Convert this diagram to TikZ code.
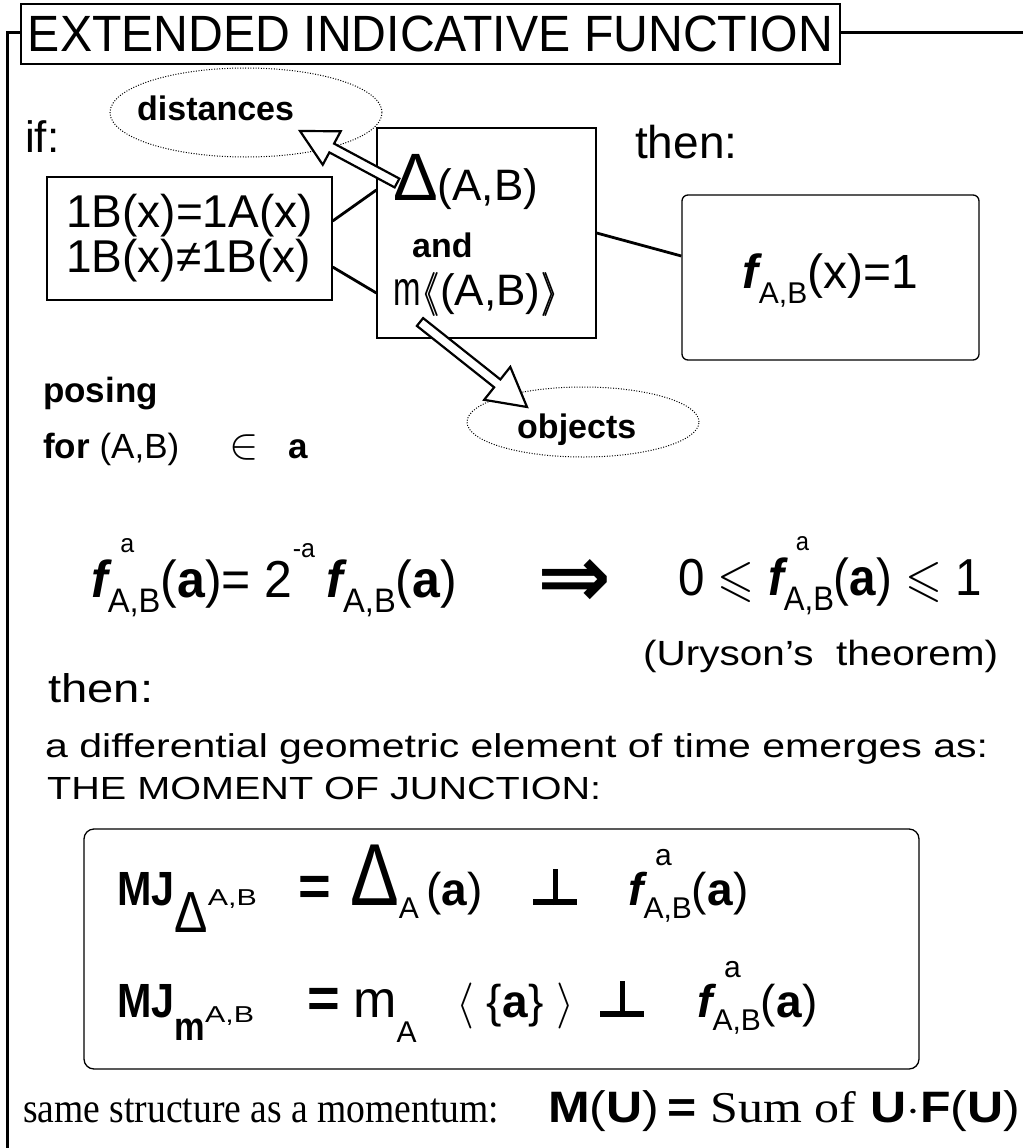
\documentclass[tikz,border=0pt]{standalone}
\usepackage{fix-cm}
\usepackage{amssymb}
\usepackage{graphicx}
\usepackage{fontspec}
\setmainfont{Liberation Sans}
\newfontfamily\nsans[FakeStretch=0.86]{Liberation Sans}
\newfontfamily\tnr{Liberation Serif}
\newfontfamily\dvs{DejaVu Sans}
\usetikzlibrary{positioning,calc,shapes.geometric}
\newcommand{\setfs}[1]{\fontsize{#1}{#1}\selectfont}
% f with index A,B and an upper index
\newcommand{\fab}[3]{%
  {\setfs{#1}\bfseries\itshape f}%
  \makebox[0pt][l]{\hspace{0.25\dimexpr#1pt\relax}\raisebox{0.85\dimexpr#1pt\relax}{\setfs{#2}#3}}%
  \raisebox{-0.3\dimexpr#1pt\relax}{\setfs{#2}A,B}}
% heavy perpendicular sign
\newcommand{\perpbar}{\makebox[44pt][l]{\rule{44pt}{6pt}\hspace{-24pt}\rule{4.5pt}{36pt}}}
\tikzset{
  box/.style={draw, line width=1.3pt, inner sep=0pt},
  txt/.style={anchor=base west, inner sep=0pt},
  cloud/.style={ellipse, draw, line width=1pt, dash pattern=on 1pt off 1.6pt, inner sep=0pt},
  link/.style={line width=2.8pt},
  frame/.style={line width=3pt},
  hollow/.style={draw, fill=white, line width=2.2pt, line join=miter},
}
% hollow arrow: tail, tip, shaft half width, head length, head half width
\newcommand{\harrow}[5]{%
  \coordinate (hn) at ($(#2)!#4!(#1)$);
  \draw[hollow] ($(#1)!#3!90:(#2)$) -- ($(hn)!#3!90:(#2)$) -- ($(hn)!#5!90:(#2)$)
    -- (#2) -- ($(hn)!#5!-90:(#2)$) -- ($(hn)!#3!-90:(#2)$) -- ($(#1)!#3!-90:(#2)$) -- cycle;
}

\begin{document}
\begin{tikzpicture}[x=1pt, y=-1pt]
\useasboundingbox[fill=white] (0,0) rectangle (1023,1148);

% frame and title
\node[box, line width=1.6pt, minimum width=819, minimum height=60] (title) at (430.5,34)
  {\resizebox{805pt}{\height}{\setfs{51}EXTENDED INDICATIVE FUNCTION}};
\coordinate (ftl) at (7,33);
\coordinate (fbl) at (7,1148);
\coordinate (ftr) at (1023,33);
\draw[frame] (fbl) -- (ftl) -- (title.west |- ftl);
\draw[frame] (title.east |- ftr) -- (ftr);

% condition, relation and result boxes
\node[box, minimum width=285, minimum height=123, align=left,
      font={\fontsize{46}{45}\selectfont}] (cond) at (189.5,238.5)
  {1B(x)=1A(x)\\1B(x)≠1B(x)};
\node[box, minimum width=219, minimum height=210] (rel) at (486.5,233) {};
\node[box, rounded corners=6pt, minimum width=297, minimum height=165] (res) at (830.5,277.5)
  {\setfs{48}\fab{48}{30}{}(x)=1};
\draw[link] ([yshift=17.5pt]cond.east) -- ([yshift=43pt]rel.west);
\draw[link] ([yshift=-28.5pt]cond.east) -- ([yshift=-60pt]rel.west);
\draw[link] (rel.east) -- ([yshift=21.5pt]res.west);

% clouds
\node[cloud, minimum width=272, minimum height=89] (dist) at (246,112.5) {};
\node[cloud, minimum width=232, minimum height=70] (obj) at (583,422) {};
\coordinate (dtail) at (397,183);
\coordinate (dtip) at (300,131);
\coordinate (otail) at (420,322);
\coordinate (otip) at (527,407);
\harrow{dtail}{dtip}{5pt}{36pt}{19pt}
\harrow{otail}{otip}{5pt}{38pt}{21pt}

% texts of the upper part
\node[txt] (iftxt) at (25,152) {\setfs{44}if:};
\node[txt] (then1) at (635,158) {\setfs{46}then:};
\node[txt] (disttxt) at (137,120) {\setfs{34}\bfseries distances};
\node[txt] (objtxt) at (517,438) {\setfs{34}\bfseries objects};
\node[txt] (dline) at (393,200) {{\setfs{67}Δ}\setfs{44}(A,B)};
\node[txt] (andtxt) at (412,257) {\setfs{34}\bfseries and};
\node[txt] (mline) at (393,305)
  {\setfs{44}\scalebox{0.75}[1.1]{m}$\langle\!\!\langle$(A,B)$\rangle\!\!\rangle$};
\node[txt] (posing) at (43,402) {\setfs{35}\bfseries posing};
\node[txt, below=56pt of posing.base west, anchor=base west] (forab)
  {\setfs{35}\textbf{for} (A,B)\hspace{50pt}{\setfs{44}$\in$}\hspace{30pt}\textbf{a}};

% Uryson
\node[txt] (fdef) at (91,597)
  {\resizebox{366pt}{\height}{\setfs{52}\fab{52}{34}{\setfs{26}a}(\textbf{a})= 2\raisebox{40pt}{\setfs{26}-a}\hspace{12pt}\fab{52}{34}{}(\textbf{a})}};
\node[txt] (impl) at (537,607) {\resizebox{74pt}{48pt}{\dvs\bfseries ⇒}};
\node[txt] (ineq) at (678,595)
  {\resizebox{304pt}{\height}{\setfs{52}0 $\leqslant$ \fab{52}{34}{\setfs{26}a}(\textbf{a}) $\leqslant$ 1}};
\node[txt] (ury) at (643,665) {\resizebox{355pt}{\height}{\setfs{35}(Uryson's\ \ theorem)}};

% moment of junction
\node[txt] (then2) at (48,702) {\resizebox{105pt}{\height}{\setfs{40}then:}};
\node[txt] (diff) at (45,757)
  {\resizebox{943pt}{\height}{\setfs{33}a differential geometric\ element of time emerges as:}};
\node[txt] (mjhead) at (47,799)
  {\resizebox{554pt}{\height}{\setfs{32}THE MOMENT OF JUNCTION:}};
\node[box, rounded corners=10pt, minimum width=835, minimum height=240] (mjbox) at (501.5,949) {};

\node[txt] (mj1) at (117,905)
  {\nsans\setfs{48}\bfseries MJ\raisebox{-27pt}{\mdseries\setfs{58}Δ}\mdseries\resizebox{49pt}{\height}{\setfs{23}A,B}};
\node[txt] (eq1) at (298,905) {\setfs{56}\bfseries =};
\node[txt] (da) at (350,905)
  {\scalebox{0.83}[1]{\setfs{88}Δ}\raisebox{-13pt}{\setfs{30}A}\setfs{46}\,(\textbf{a})};
\node[txt] (perp1) at (533,905) {\perpbar};
\node[txt] (f1) at (628,905) {\setfs{46}\fab{46}{30}{a}(\textbf{a})};

\node[txt] (mj2) at (117,1017)
  {\nsans\setfs{48}\bfseries MJ\raisebox{-23pt}{\setfs{40}m}\raisebox{-5pt}{\mdseries\resizebox{49pt}{\height}{\setfs{23}A,B}}};
\node[txt] (eq2) at (307,1017) {\setfs{56}\bfseries =};
\node[txt] (ma) at (353,1017) {\setfs{52}m\raisebox{-25pt}{\setfs{30}A}};
\node[txt] (brk) at (456,1017) {\setfs{46}$\langle$\;\{\textbf{a}\}\;$\rangle$};
\node[txt] (perp2) at (600,1017) {\perpbar};
\node[txt] (f2) at (697,1017) {\setfs{46}\fab{46}{30}{a}(\textbf{a})};

% momentum
\node[txt] (same) at (23,1122)
  {\resizebox{476pt}{\height}{\tnr\setfs{42}same structure as a momentum:}};
\node[txt] (mom) at (548,1122)
  {\resizebox{472pt}{\height}{\setfs{44}\textbf{M}(\textbf{U})\,\textbf{=} {\tnr Sum of} \textbf{U}$\cdot$\textbf{F}(\textbf{U})}};
\end{tikzpicture}
\end{document}
